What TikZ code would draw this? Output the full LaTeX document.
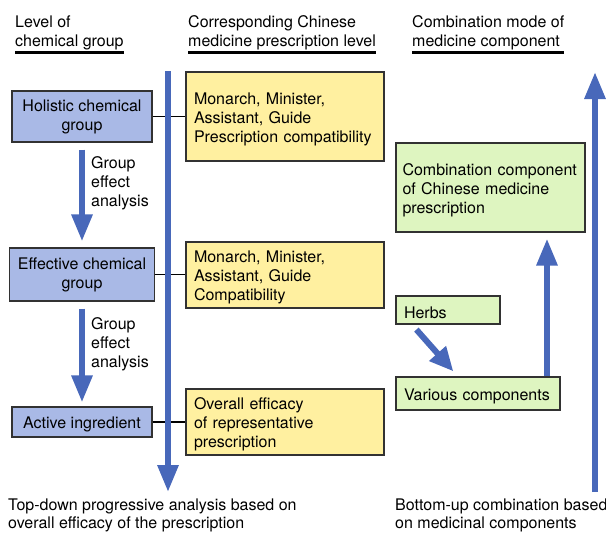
\documentclass[tikz,border=0pt]{standalone}
\usepackage{fontspec}
\setmainfont{TeX Gyre Heros}
\usepackage{xcolor}
\usepackage{tikz}
\usetikzlibrary{arrows.meta,positioning}
\definecolor{arrowblue}{RGB}{72,104,186}
\definecolor{levelblue}{RGB}{169,185,230}
\definecolor{prescyellow}{RGB}{255,240,160}
\definecolor{compgreen}{RGB}{222,245,192}
\definecolor{boxline}{RGB}{50,50,50}
\tikzset{
  basebox/.style={rectangle, draw=boxline, line width=1.2pt, inner xsep=8pt,
                  inner ysep=2pt, font=\fontsize{16}{19}\selectfont,
                  execute at begin node={\rule{0pt}{17pt}}},
  levelbox/.style={basebox, fill=levelblue, align=center, minimum width=140pt},
  prescbox/.style={basebox, fill=prescyellow, align=left, text width=182pt},
  compbox/.style={basebox, fill=compgreen, align=left},
  bigarr/.style={-{Triangle[length=27pt,width=20pt]}, line width=6pt, color=arrowblue},
  link/.style={line width=1.5pt, black},
  hdr/.style={font=\fontsize{16}{19}\selectfont, align=left, inner sep=0pt,
              anchor=south west},
  lbl/.style={font=\fontsize{16}{19}\selectfont, align=left, inner sep=0pt,
              anchor=west},
  note/.style={font=\fontsize{16}{17.5}\selectfont, align=left, inner sep=0pt,
               anchor=north west},
}

\begin{document}
\begin{tikzpicture}[x=1pt,y=-1pt]
  \useasboundingbox (0,0) rectangle (606,533);
  % column headers
  \node[hdr] (hlevel) at (15,50) {Level of\\chemical group};
  \node[hdr] (hpresc) at (188,50) {Corresponding Chinese\\medicine prescription level};
  \node[hdr] (hcomb) at (412,50) {Combination mode of\\medicine component};
  \foreach \h in {hlevel,hpresc,hcomb}
    \draw[line width=2.2pt] ([yshift=-2.5pt]\h.south west) -- ([yshift=-2.5pt]\h.south east);

  % chemical group levels
  \node[levelbox, minimum height=51pt] (holistic) at (82,116.5) {Holistic chemical\\group};
  \node[levelbox, minimum height=53pt] (effective) at (82,274.5) {Effective chemical\\group};
  \node[levelbox, minimum height=30pt] (active) at (82,422) {Active ingredient};
  \node[lbl] (analysis1) at (91,183) {Group\\effect\\analysis};
  \node[lbl] (analysis2) at (91,344) {Group\\effect\\analysis};

  % prescription levels
  \node[prescbox, minimum height=89pt] (compat) at (285,116.5)
       {Monarch, Minister,\\Assistant, Guide\\Prescription compatibility};
  \node[prescbox, minimum height=66pt] (compat2) at (285,275)
       {Monarch, Minister,\\Assistant, Guide\\Compatibility};
  \node[prescbox, minimum height=66pt] (efficacy) at (285,422)
       {Overall efficacy\\of representative\\prescription};

  % medicine components
  \node[compbox, inner xsep=6.5pt, text width=176pt, minimum height=89pt] (combination) at (490.5,187.5)
       {Combination component\\of Chinese medicine\\prescription};
  \node[compbox, text width=88pt, minimum height=28pt] (herbs) at (448,310) {Herbs};
  \node[compbox, text width=148pt, minimum height=33pt] (various) at (478,393.5) {Various components};

  % bottom notes
  \node[note] (topdown) at (8,499)
       {Top-down progressive analysis based on\\overall efficacy of the prescription};
  \node[note] (bottomup) at (395,499)
       {Bottom-up combination based\\on medicinal components};

  % links and arrows
  \draw[link] (holistic.east) -- (compat.west);
  \draw[link] (effective.east) -- (effective.east -| compat2.west);
  \draw[link] (active.east) -- (efficacy.west);

  \coordinate (tdtop) at (168,71);
  \coordinate (tdbot) at (168,492);
  \coordinate (butop) at (595,72);
  \coordinate (bubot) at (595,492);
  \draw[bigarr] (tdtop) -- (tdbot);
  \draw[bigarr] (bubot) -- (butop);
  \draw[bigarr, shorten <=7pt, shorten >=6pt] (holistic.south) -- (effective.north);
  \draw[bigarr, shorten <=7pt, shorten >=4pt] (effective.south) -- (active.north);
  \draw[bigarr, shorten >=6pt] ([xshift=69pt]various.north) -- ([xshift=69pt]various.north |- combination.south);
  \draw[bigarr, -{Triangle[length=24pt,width=21pt]}]
       ([xshift=21pt,yshift=-5pt]herbs.south west) -- ([xshift=58pt,yshift=5pt]various.north west);
\end{tikzpicture}
\end{document}
